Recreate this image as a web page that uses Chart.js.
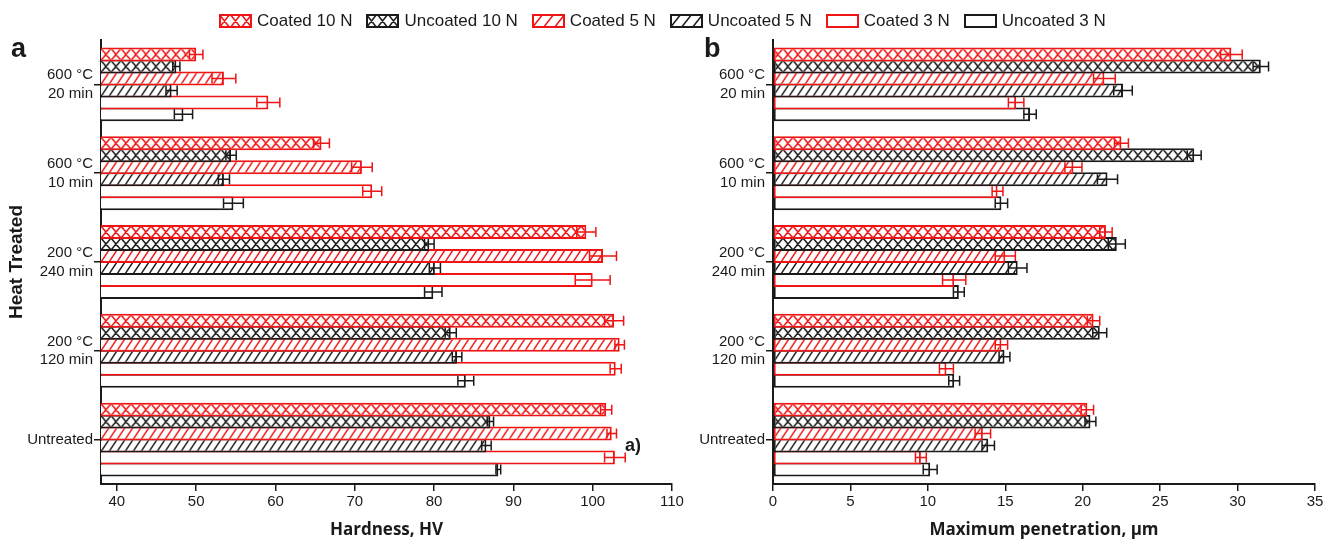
<!DOCTYPE html>
<html>
<head>
<meta charset="utf-8">
<script src="https://cdn.jsdelivr.net/npm/chart.js@4.4.1/dist/chart.umd.min.js"></script>
<style>
  html, body { margin: 0; padding: 0; background: #fff; }
  body { width: 1338px; height: 542px; position: relative; overflow: hidden;
         font-family: 'Liberation Sans', Arial, sans-serif; color: #1a1a1a; }
  #wrapA { position: absolute; left: 0; top: 0; }
  #wrapB { position: absolute; left: 690px; top: 0; }
  #legend { position: absolute; left: 219px; top: 12px; display: flex; align-items: center;
            font-size: 17px; white-space: nowrap; z-index: 2; line-height: 18px; }
  .item { display: flex; align-items: center; margin-right: 14px; }
  .item canvas { margin-right: 5px; display: block; }
  .tag { position: absolute; font-weight: bold; z-index: 2; line-height: 1; }
</style>
</head>
<body>
<div id="legend"></div>
<div class="tag" style="left:11px;top:35px;font-size:27px;">a</div>
<div class="tag" style="left:704px;top:35px;font-size:27px;">b</div>
<div class="tag" style="left:625px;top:436px;font-size:18px;">a)</div>
<div id="wrapA"><canvas id="chartA" width="690" height="542"></canvas></div>
<div id="wrapB"><canvas id="chartB" width="648" height="542"></canvas></div>

<script>
// categories, top to bottom
const categories = [["600 °C", "20 min"], ["600 °C", "10 min"], ["200 °C", "240 min"], ["200 °C", "120 min"], "Untreated"];
const seriesNames = ["Coated 10 N", "Uncoated 10 N", "Coated 5 N", "Uncoated 5 N", "Coated 3 N", "Uncoated 3 N"];

// (a) hardness, HV
const hvCoated10   = [50.0, 65.8, 99.2, 102.7, 101.7];
const hvUncoated10 = [47.5, 54.4, 79.4, 82.1, 87.1];
const hvCoated5    = [53.5, 70.9, 101.3, 103.4, 102.4];
const hvUncoated5  = [46.9, 53.5, 80.1, 82.9, 86.6];
const hvCoated3    = [59.1, 72.2, 100.0, 102.9, 102.8];
const hvUncoated3  = [48.4, 54.7, 79.9, 84.0, 88.1];
const hvErrC10 = [0.85, 1.0, 1.2, 1.2, 0.7];
const hvErrU10 = [0.45, 0.65, 0.6, 0.7, 0.4];
const hvErrC5  = [1.5, 1.3, 1.7, 0.6, 0.6];
const hvErrU5  = [0.7, 0.7, 0.7, 0.6, 0.6];
const hvErrC3  = [1.45, 1.2, 2.2, 0.7, 1.3];
const hvErrU3  = [1.15, 1.25, 1.1, 1.0, 0.3];

// (b) maximum penetration, um
const mpCoated10   = [29.6, 22.5, 21.5, 20.7, 20.3];
const mpUncoated10 = [31.5, 27.2, 22.2, 21.1, 20.5];
const mpCoated5    = [21.4, 19.4, 15.0, 14.75, 13.55];
const mpUncoated5  = [22.6, 21.6, 15.8, 14.95, 13.9];
const mpCoated3    = [15.7, 14.5, 11.7, 11.2, 9.55];
const mpUncoated3  = [16.6, 14.75, 12.0, 11.7, 10.15];
const mpErrC10 = [0.7, 0.45, 0.4, 0.4, 0.4];
const mpErrU10 = [0.5, 0.45, 0.55, 0.45, 0.35];
const mpErrC5  = [0.7, 0.55, 0.65, 0.4, 0.5];
const mpErrU5  = [0.6, 0.65, 0.6, 0.35, 0.4];
const mpErrC3  = [0.5, 0.35, 0.75, 0.45, 0.35];
const mpErrU3  = [0.4, 0.4, 0.35, 0.35, 0.45];

const hvTicks = [40, 110, 10];   // first, last, step
const mpTicks = [0, 35, 5];

const RED = '#f01414';
const BLACK = '#1a1a1a';
const colors = [RED, BLACK, RED, BLACK, RED, BLACK];
const kinds = ['cross', 'cross', 'slash', 'slash', null, null];
const CAT_PCT = 0.81;

Chart.defaults.font.family = "'Liberation Sans', Arial, sans-serif";
Chart.defaults.color = BLACK;

function hatchTile(color, kind, w, h) {
  const c = document.createElement('canvas');
  c.width = w; c.height = h;
  const g = c.getContext('2d');
  g.fillStyle = '#fff';
  g.fillRect(0, 0, w, h);
  if (kind) {
    g.strokeStyle = color;
    g.lineWidth = 1.5;
    g.beginPath();
    for (const dx of [-w, 0, w]) {
      for (const dy of [-h, 0, h]) {
        g.moveTo(dx, h + dy); g.lineTo(dx + w, dy);
        if (kind === 'cross') { g.moveTo(dx, dy); g.lineTo(dx + w, h + dy); }
      }
    }
    g.stroke();
  }
  return c;
}

// fill lined up with each bar so the hatch sits inside it
function barFill(color, kind) {
  if (!kind) return '#fff';
  const tile = hatchTile(color, kind, kind === 'cross' ? 10 : 8, 12);
  const cache = {};
  return function (ctx) {
    const chart = ctx.chart, ys = chart.scales.y;
    if (ctx.type !== 'data' || !ys || !chart.chartArea) return '#fff';
    const groupH = ys.height / categories.length * CAT_PCT;
    const top = ys.getPixelForValue(ctx.dataIndex) - groupH / 2 + ctx.datasetIndex * groupH / 6;
    const key = ctx.dataIndex + ':' + top.toFixed(2);
    if (!cache[key]) {
      const p = chart.ctx.createPattern(tile, 'repeat');
      p.setTransform(new DOMMatrix([1, 0, 0, 1, chart.chartArea.left, top]));
      cache[key] = p;
    }
    return cache[key];
  };
}

const errorBars = {
  id: 'errorBars',
  afterDatasetsDraw(chart) {
    const g = chart.ctx, xs = chart.scales.x;
    for (let i = chart.data.datasets.length - 1; i >= 0; i--) {
      const ds = chart.data.datasets[i];
      const meta = chart.getDatasetMeta(i);
      g.save();
      g.strokeStyle = ds.borderColor;
      g.lineWidth = 1.5;
      meta.data.forEach((bar, j) => {
        const v = ds.data[j], e = ds.errors[j];
        const x0 = xs.getPixelForValue(v - e), x1 = xs.getPixelForValue(v + e), y = bar.y;
        g.beginPath();
        g.moveTo(x0, y); g.lineTo(x1, y);
        g.moveTo(x0, y - 5); g.lineTo(x0, y + 5);
        g.moveTo(x1, y - 5); g.lineTo(x1, y + 5);
        g.stroke();
      });
      g.restore();
    }
  }
};

function makeChart(id, series, errs, xMin, tk, xTitle, yTitle, yWidth, padRight) {
  const datasets = series.map((d, i) => ({
    label: seriesNames[i],
    data: d,
    errors: errs[i],
    borderColor: colors[i],
    backgroundColor: barFill(colors[i], kinds[i]),
    borderWidth: 2,
    borderSkipped: false
  }));
  return new Chart(document.getElementById(id), {
    type: 'bar',
    data: { labels: categories, datasets: datasets },
    plugins: [errorBars],
    options: {
      indexAxis: 'y',
      responsive: false,
      animation: false,
      datasets: { bar: { categoryPercentage: CAT_PCT, barPercentage: 14 / 12 } },
      layout: { padding: { top: 40, right: padRight, left: 0, bottom: 0 } },
      plugins: { legend: { display: false }, tooltip: { enabled: false } },
      scales: {
        x: {
          type: 'linear', min: xMin, max: tk[1], z: 1,
          ticks: { stepSize: tk[2], includeBounds: false, font: { size: 15 }, padding: 2, color: BLACK },
          grid: { drawOnChartArea: false, tickLength: 7, color: BLACK, lineWidth: 1.5 },
          border: { color: BLACK, width: 2 },
          title: { display: true, text: xTitle, font: { family: "'Open Sans', 'Liberation Sans', sans-serif", size: 17, weight: 'bold' }, padding: { top: 0, bottom: 2 }, color: BLACK },
          afterFit(s) { s.height = 58; }
        },
        y: {
          z: 1,
          ticks: { autoSkip: false, font: { size: 15, lineHeight: 1.25 }, padding: 1, color: BLACK },
          grid: { drawOnChartArea: false, offset: false, tickLength: 7, color: BLACK, lineWidth: 1.5 },
          border: { color: BLACK, width: 2 },
          title: { display: !!yTitle, text: yTitle, font: { size: 19, weight: 'bold' }, padding: { top: 5, bottom: 0 }, color: BLACK },
          afterFit(s) { s.width = yWidth; }
        }
      }
    }
  });
}

makeChart('chartA',
  [hvCoated10, hvUncoated10, hvCoated5, hvUncoated5, hvCoated3, hvUncoated3],
  [hvErrC10, hvErrU10, hvErrC5, hvErrU5, hvErrC3, hvErrU3],
  38, hvTicks, 'Hardness, HV', 'Heat Treated', 101, 18);

makeChart('chartB',
  [mpCoated10, mpUncoated10, mpCoated5, mpUncoated5, mpCoated3, mpUncoated3],
  [mpErrC10, mpErrU10, mpErrC5, mpErrU5, mpErrC3, mpErrU3],
  mpTicks[0], mpTicks, 'Maximum penetration, µm', '', 83, 23);

// legend
const legend = document.getElementById('legend');
seriesNames.forEach((name, i) => {
  const item = document.createElement('div');
  item.className = 'item';
  const sw = document.createElement('canvas');
  sw.width = 33; sw.height = 14;
  const g = sw.getContext('2d');
  g.fillStyle = g.createPattern(hatchTile(colors[i], kinds[i], 11, 14), 'repeat');
  g.fillRect(0, 0, 33, 14);
  g.strokeStyle = colors[i];
  g.lineWidth = 2;
  g.strokeRect(1, 1, 31, 12);
  const txt = document.createElement('span');
  txt.textContent = name;
  item.appendChild(sw);
  item.appendChild(txt);
  legend.appendChild(item);
});
</script>
</body>
</html>
